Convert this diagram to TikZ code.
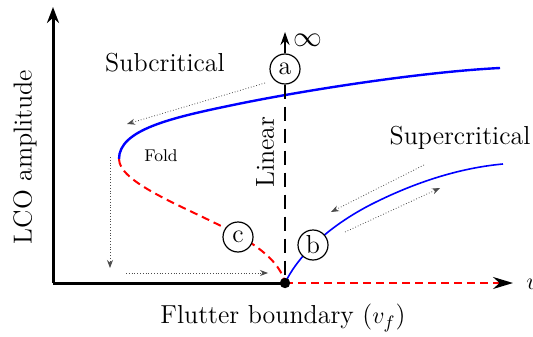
\documentclass[tikz,border=0pt]{standalone}
\usetikzlibrary{arrows.meta}
\begin{document}
\begin{tikzpicture}[x=0.5pt,y=-0.5pt,
  font=\fontsize{13}{15}\selectfont,
  axis/.style={line width=1.5pt, -{Stealth[length=8pt,width=6pt]}},
  blueup/.style={blue, line width=1.2pt},
  bluelow/.style={blue, line width=0.8pt},
  reddash/.style={red, line width=1pt, dash pattern=on 4pt off 2.5pt},
  lindash/.style={line width=1.2pt, dash pattern=on 7pt off 4pt},
  lab/.style={circle, draw, line width=0.6pt, fill=white, minimum size=15pt, inner sep=0pt},
  hint/.style={black!70, line width=0.4pt, densely dotted, -{Stealth[length=4pt,width=3pt]}}]
\useasboundingbox (0,0) rectangle (533,336);
% key points
\coordinate (O) at (285,283);
\coordinate (C) at (53,283);
\coordinate (Y) at (53,7);
\coordinate (X) at (513,283);
\coordinate (F) at (119,159);
\coordinate (Ua) at (500,68);
\coordinate (Lb) at (503,164);
\coordinate (inf) at (285,32);
% curves
\draw[blueup] (F) .. controls (119,130) and (170,118) .. (233,105) .. controls (300,91) and (420,72) .. (Ua);
\draw[reddash] (F) .. controls (119,182) and (180,205) .. (225,228) .. controls (258,245) and (280,262) .. (O);
\draw[bluelow] (O) .. controls (296,260) and (322,230) .. (370,205) .. controls (425,177) and (470,167) .. (Lb);
% axes
\draw[axis] (C) -- (Y);
\draw[line width=1.5pt] (C) -- (O);
\draw[reddash, -{Stealth[black,length=10pt,width=6pt]}] (O) -- (X);
% linear line
\node[lab] (a) at (285,69) {a};
\draw[lindash] (a.south) -- (O);
\draw[line width=1pt, -{Stealth[length=6.5pt,width=4.5pt]}] (a) -- (inf);
\node (infl) at (308,40) {\fontsize{14}{16}\selectfont$\infty$};
\node[lab] (b) at (313,245) {b};
\node[lab] (c) at (238,237) {c};
\fill (O) circle (2.6pt);
% hint arrows
\coordinate (h1s) at (265,83); \coordinate (h1e) at (127,124);
\coordinate (h2s) at (110,157); \coordinate (h2e) at (110,268);
\coordinate (h3s) at (126,273); \coordinate (h3e) at (268,273);
\coordinate (h4s) at (424,165); \coordinate (h4e) at (331,212);
\coordinate (h5s) at (345,232); \coordinate (h5e) at (440,188);
\draw[hint] (h1s) -- (h1e);
\draw[hint] (h2s) -- (h2e);
\draw[hint] (h3s) -- (h3e);
\draw[hint] (h4s) -- (h4e);
\draw[hint] (h5s) -- (h5e);
% labels
\node (sub) at (165,63) {Subcritical};
\node (sup) at (460,138) {Supercritical};
\node[font=\fontsize{8.5}{10}\selectfont] (fold) at (161,156) {Fold};
\node[rotate=90] (lin) at (265,152) {Linear};
\node[rotate=90] (ylab) at (25,157) {LCO amplitude};
\node (xlab) at (283,318) {Flutter boundary ($v_f$)};
\node[anchor=west, inner sep=0pt] (vlab) at (526,284) {$v$};
\end{tikzpicture}
\end{document}
